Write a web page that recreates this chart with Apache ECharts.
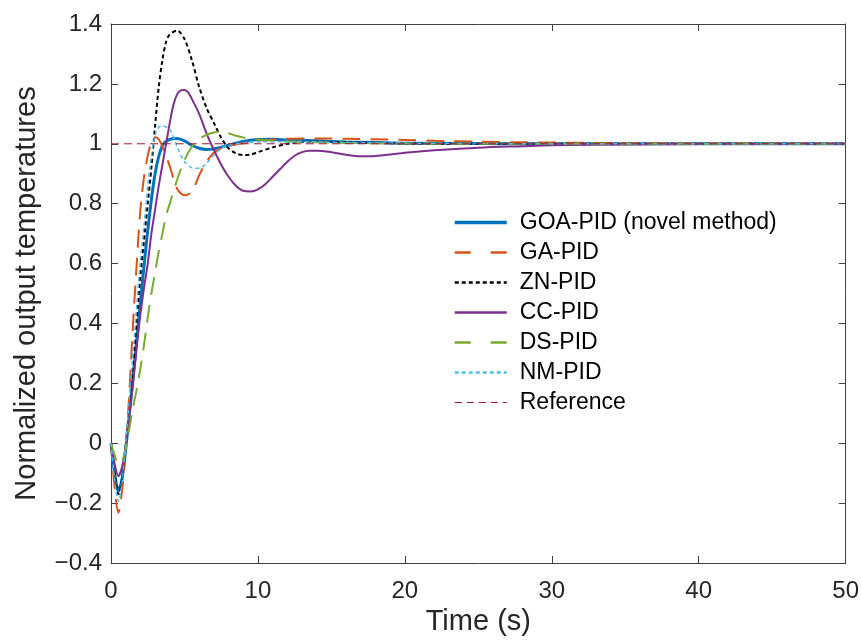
<!DOCTYPE html>
<html>
<head>
<meta charset="utf-8">
<script src="https://cdn.jsdelivr.net/npm/echarts@6/dist/echarts.min.js"></script>
<style>html,body{margin:0;padding:0;background:#fff;}#c{width:862px;height:642px;}</style>
</head>
<body>
<div id="c"></div>
<script>
// ---- data ----
var seriesNames = ['GOA-PID (novel method)', 'GA-PID', 'ZN-PID', 'CC-PID', 'DS-PID', 'NM-PID', 'Reference'];
var xTicks = [0, 10, 20, 30, 40, 50];
var yTicks = [-0.4, -0.2, 0, 0.2, 0.4, 0.6, 0.8, 1, 1.2, 1.4];

var goaT = [0,0.25,0.5,0.75,1,1.25,1.5,2,2.5,3,3.5,4,4.5,5,5.5,6,6.5,7,8,9,10,11,12,14,16,18,20,25,30,40,50];
var goaY = [0,-0.1,-0.16,-0.12,-0.02,0.1,0.22,0.47,0.71,0.9,0.995,1.015,1.018,1.01,0.995,0.985,0.981,0.983,0.995,1.008,1.014,1.015,1.013,1.01,1.006,1.004,1.002,1.001,1,1,1];

var gaT = [0,0.25,0.5,0.75,1,1.25,1.5,1.75,2,2.25,2.5,2.75,3,3.25,3.5,4,4.5,5,5.5,6,6.5,7,7.5,8,9,10,12,14,16,18,20,22,25,28,30,35,40,50];
var gaY = [0,-0.15,-0.232,-0.16,-0.02,0.17,0.4,0.6,0.78,0.89,0.96,1.005,1.022,1.015,0.99,0.925,0.85,0.828,0.84,0.895,0.94,0.97,0.985,0.993,1.002,1.01,1.017,1.018,1.017,1.015,1.013,1.01,1.007,1.005,1.004,1.002,1.001,1];

var znT = [0,0.25,0.5,0.75,1,1.25,1.5,1.75,2,2.25,2.5,2.75,3,3.25,3.5,3.75,4,4.5,5,5.5,6,6.5,7,7.5,8,8.5,9,9.5,10,11,12,13,14,16,18,20,25,50];
var znY = [0,-0.1,-0.17,-0.12,-0.01,0.12,0.25,0.41,0.56,0.68,0.8,0.92,1.06,1.19,1.28,1.34,1.365,1.378,1.35,1.28,1.19,1.12,1.07,1.02,0.985,0.968,0.962,0.964,0.972,0.988,1.0,1.006,1.007,1.005,1.003,1.001,1,1];

var ccT = [0,0.25,0.5,0.75,1,1.25,1.5,1.75,2,2.25,2.5,2.75,3,3.25,3.5,3.75,4,4.25,4.5,4.75,5,5.25,5.5,6,6.5,7,7.5,8,8.5,9,9.5,10,10.5,11,11.5,12,12.5,13,13.5,14,15,16,17,18,19,20,22,25,28,30,35,40,50];
var ccY = [0,-0.07,-0.11,-0.08,-0.01,0.09,0.2,0.32,0.43,0.52,0.6,0.7,0.78,0.86,0.93,1.0,1.07,1.13,1.165,1.178,1.18,1.172,1.15,1.1,1.035,0.98,0.93,0.89,0.86,0.843,0.841,0.848,0.865,0.89,0.915,0.94,0.96,0.972,0.977,0.977,0.972,0.963,0.958,0.959,0.964,0.97,0.978,0.987,0.992,0.995,0.998,0.999,1];

var dsT = [0,0.25,0.5,0.75,1,1.25,1.5,1.75,2,2.25,2.5,2.75,3,3.25,3.5,3.75,4,4.5,5,5.5,6,6.5,7,7.5,8,8.5,9,10,11,12,14,16,20,25,50];
var dsY = [0,-0.04,-0.07,-0.06,-0.02,0.05,0.12,0.18,0.25,0.33,0.42,0.5,0.57,0.64,0.7,0.76,0.8,0.88,0.945,0.99,1.015,1.03,1.038,1.04,1.035,1.027,1.021,1.014,1.01,1.008,1.005,1.003,1.001,1,1];

var nmT = [0,0.25,0.5,0.75,1,1.25,1.5,1.75,2,2.25,2.5,2.75,3,3.25,3.5,3.75,4,4.5,5,5.5,6,6.5,7,7.5,8,9,10,12,14,16,20,25,30,50];
var nmY = [0,-0.12,-0.194,-0.13,0,0.15,0.3,0.46,0.61,0.73,0.86,0.96,1.03,1.055,1.06,1.056,1.05,0.99,0.94,0.92,0.918,0.935,0.962,0.985,0.995,1.002,1.006,1.007,1.006,1.004,1.002,1.001,1,1];

var refT = [0, 50];
var refY = [1, 1];

// ---- build ----
function pairs(t, y) { return t.map(function (v, i) { return [v, y[i]]; }); }
var colors = ['#0072BD', '#D95319', '#000000', '#7E2F8E', '#77AC30', '#4DBEEE', '#A2142F'];
var widths = [3, 2, 2, 2, 2, 1.5, 1];
var dashes = ['solid', [18, 10], [4, 3], 'solid', [18, 10], [4, 3], [8, 5]];
var legendDashes = ['solid', [16, 20], [4, 3], 'solid', [16, 20], [4, 3], [7, 5]];
var datasets = [pairs(goaT, goaY), pairs(gaT, gaY), pairs(znT, znY), pairs(ccT, ccY), pairs(dsT, dsY), pairs(nmT, nmY), pairs(refT, refY)];

var series = seriesNames.map(function (n, i) {
  return {
    name: n, type: 'line', data: datasets[i], symbol: 'none', showSymbol: false, smooth: 0.3,
    lineStyle: { color: colors[i], width: widths[i], type: dashes[i] },
    itemStyle: { color: colors[i] }
  };
});

var legendData = seriesNames.map(function (n, i) {
  return {
    name: n,
    itemStyle: { opacity: 0 },
    lineStyle: { color: colors[i], width: widths[i] === 3 ? 3.5 : (widths[i] < 1.5 ? 1.2 : 2.5), type: legendDashes[i], opacity: 1 }
  };
});

function fmt(v) { return String(parseFloat(v.toFixed(1))).replace('-', '\u2212'); }
var axisCol = '#404040';
var font = 'Liberation Sans, Arial, Helvetica, sans-serif';

var chart = echarts.init(document.getElementById('c'), null, { renderer: 'canvas' });
chart.setOption({
  animation: false,
  backgroundColor: '#fff',
  grid: { left: 111, top: 24, right: 15, bottom: 79, containLabel: false },
  legend: {
    orient: 'vertical', left: 453, top: 211, padding: 0,
    itemWidth: 52, itemHeight: 14, itemGap: 7,
    itemStyle: { opacity: 0 },
    textStyle: { fontSize: 23, color: '#000', fontFamily: font, padding: [0, 0, 0, 8] },
    data: legendData
  },
  xAxis: [{
    type: 'value', min: 0, max: 50, interval: 10, position: 'bottom',
    name: 'Time (s)', nameLocation: 'middle', nameGap: 44,
    nameTextStyle: { fontSize: 29, color: '#262626', fontFamily: font },
    axisLine: { show: true, onZero: false, lineStyle: { color: axisCol, width: 1 } },
    axisTick: { show: true, inside: true, length: 7, lineStyle: { color: axisCol } },
    axisLabel: { fontSize: 24, color: '#262626', fontFamily: font, margin: 16, formatter: fmt },
    splitLine: { show: false }
  }, {
    type: 'value', min: 0, max: 50, interval: 10, position: 'top',
    axisLine: { show: true, onZero: false, lineStyle: { color: axisCol, width: 1 } },
    axisTick: { show: true, inside: true, length: 7, lineStyle: { color: axisCol } },
    axisLabel: { show: false }, splitLine: { show: false }
  }],
  yAxis: [{
    type: 'value', min: -0.4, max: 1.4, interval: 0.2, position: 'left',
    name: 'Normalized output temperatures', nameLocation: 'middle', nameGap: 70,
    nameTextStyle: { fontSize: 29, color: '#262626', fontFamily: font },
    axisLine: { show: true, onZero: false, lineStyle: { color: axisCol, width: 1 } },
    axisTick: { show: true, inside: true, length: 7, lineStyle: { color: axisCol } },
    axisLabel: { fontSize: 24, color: '#262626', fontFamily: font, margin: 9, formatter: fmt },
    splitLine: { show: false }
  }, {
    type: 'value', min: -0.4, max: 1.4, interval: 0.2, position: 'right',
    axisLine: { show: true, onZero: false, lineStyle: { color: axisCol, width: 1 } },
    axisTick: { show: true, inside: true, length: 7, lineStyle: { color: axisCol } },
    axisLabel: { show: false }, splitLine: { show: false }
  }],
  series: series
});
</script>
</body>
</html>
